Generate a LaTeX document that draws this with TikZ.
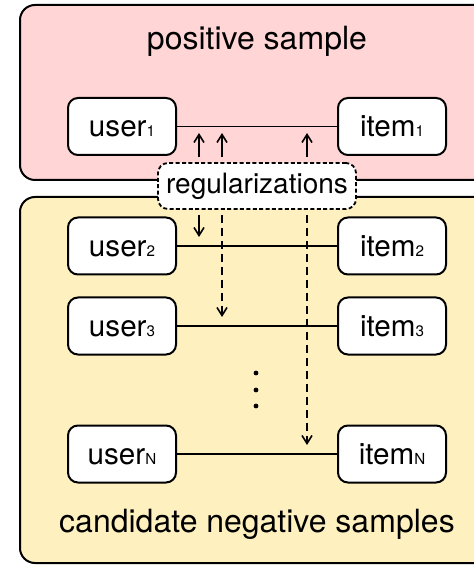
\documentclass[tikz,border=0pt]{standalone}
\usepackage{fontspec}
\setmainfont{TeX Gyre Heros}
\usetikzlibrary{arrows.meta}
\definecolor{pinkbg}{HTML}{FFD5D5}
\definecolor{yellowbg}{HTML}{FEF0BF}
\newcommand{\sbs}[1]{{\fontsize{7.6pt}{8pt}\selectfont #1}}
\tikzset{
  region/.style={draw=black, line width=1pt, rounded corners=7.5pt},
  entity/.style={draw=black, fill=white, line width=1pt, rounded corners=5pt,
    minimum width=54pt, minimum height=28.5pt, inner sep=0pt,
    text height=10.5pt, text depth=0pt, font=\fontsize{14.8pt}{17pt}\selectfont},
  regnode/.style={draw=black, fill=white, line width=0.9pt, rounded corners=5pt,
    dash pattern=on 2pt off 1.2pt, minimum width=99pt, minimum height=23pt,
    inner sep=0pt, font=\fontsize{14pt}{16pt}\selectfont},
  title/.style={font=\fontsize{16pt}{19pt}\selectfont, anchor=base},
  link/.style={line width=0.8pt},
  regarrow/.style={line width=0.8pt, -{Straight Barb[length=4pt,width=5pt]}, shorten <=2.5pt},
  regdash/.style={regarrow, dash pattern=on 4pt off 2.5pt},
}
\begin{document}
\begin{tikzpicture}[x=0.5pt,y=-0.5pt]
\useasboundingbox (0,0) rectangle (474,565);
\clip (0,0) rectangle (474,565);
% regions
\draw[region, fill=pinkbg] (20,5) rectangle (500,180);
\draw[region, fill=yellowbg] (20,197) rectangle (500,563);
\node[title] (ptitle) at (257,50) {positive sample};
\node[title] (ntitle) at (257,532) {candidate negative samples};
% entities
\node[entity] (u1) at (122,126.5) {user\sbs{1}};
\node[entity] (i1) at (392,126.5) {item\sbs{1}};
\node[entity] (u2) at (122,246) {user\sbs{2}};
\node[entity] (i2) at (392,246) {item\sbs{2}};
\node[entity] (u3) at (122,326) {user\sbs{3}};
\node[entity] (i3) at (392,326) {item\sbs{3}};
\node[entity] (uN) at (122,454) {user\sbs{N}};
\node[entity] (iN) at (392,454) {item\sbs{N}};
% links
\draw[link] (u1) -- (i1);
\draw[link] (u2) -- (i2);
\draw[link] (u3) -- (i3);
\draw[link] (uN) -- (iN);
% dots
\foreach \yy/\nm in {373/d1,390/d2,406/d3}
  \fill (256,\yy) circle (1.2pt) coordinate (\nm);
% regularizations
\node[regnode] (reg) at (257,186) {regularizations};
% arrow tip coordinates
\coordinate (t1) at (199,133);
\coordinate (t2) at (222,133);
\coordinate (t3) at (307,133);
\coordinate (b1) at (199,237);
\coordinate (b2) at (222,317);
\coordinate (b3) at (307,445);
\draw[regarrow] (reg.north -| t1) -- (t1);
\draw[regarrow] (reg.north -| t2) -- (t2);
\draw[regarrow] (reg.north -| t3) -- (t3);
\draw[regarrow] (reg.south -| b1) -- (b1);
\draw[regdash] (reg.south -| b2) -- (b2);
\draw[regdash] (reg.south -| b3) -- (b3);
\end{tikzpicture}
\end{document}
